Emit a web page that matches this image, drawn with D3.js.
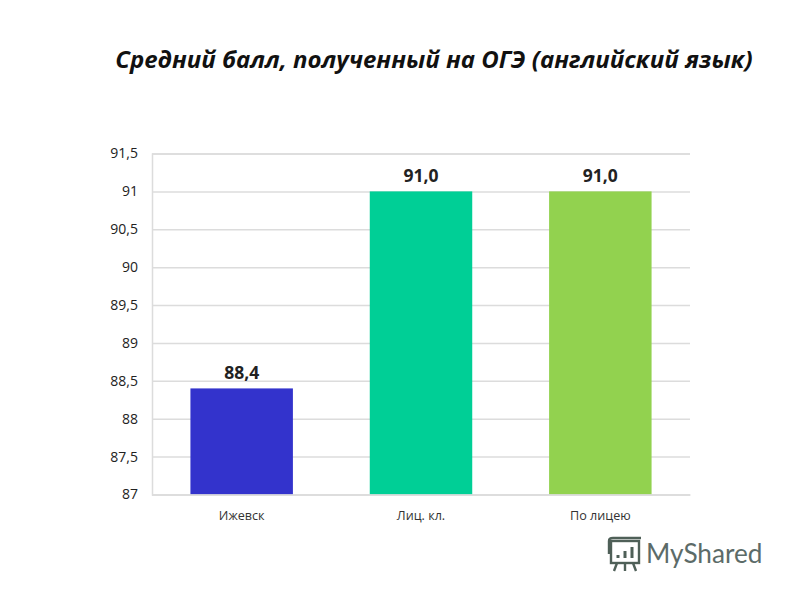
<!DOCTYPE html>
<html>
<head>
<meta charset="utf-8">
<script src="https://cdn.jsdelivr.net/npm/d3@7"></script>
<style>
  html, body { margin: 0; padding: 0; background: #fff; }
  svg { display: block; }
  text { font-family: "Open Sans", "Liberation Sans", sans-serif; }
</style>
</head>
<body>
<svg id="chart" width="800" height="600"></svg>
<script>
const categories = ['Ижевск', 'Лиц. кл.', 'По лицею'];
const values = [88.4, 91.0, 91.0];
const colors = ['#3333cc', '#00cf96', '#92d24f'];
const tickValues = [87, 87.5, 88, 88.5, 89, 89.5, 90, 90.5, 91, 91.5];

const comma = d => String(d).replace('.', ',');

const svg = d3.select('#chart');

const x = d3.scaleBand()
  .domain(categories)
  .range([152, 690])
  .paddingInner(0.75 / 1.75)
  .paddingOuter(0.375 / 1.75 * 1);

const y = d3.scaleLinear()
  .domain([87, 91.5])
  .range([494.5, 153.5]);

// title
svg.append('text')
  .attr('x', 434)
  .attr('y', 68)
  .attr('text-anchor', 'middle')
  .style('font-family', '"Open Sans", sans-serif')
  .style('font-size', '24px')
  .style('font-weight', 700)
  .style('font-style', 'italic')
  .attr('fill', '#111')
  .text('Средний балл, полученный на ОГЭ (английский язык)');

// gridlines and y labels
const yAxis = d3.axisLeft(y)
  .tickValues(tickValues)
  .tickSize(-(690 - 152))
  .tickPadding(14)
  .tickFormat(comma);

const gy = svg.append('g')
  .attr('transform', 'translate(152,0)')
  .call(yAxis);
gy.select('.domain').attr('stroke', '#dcdcdc').attr('stroke-width', 1.5);
gy.selectAll('.tick line').attr('stroke', '#dcdcdc').attr('stroke-width', 1.5);
gy.selectAll('.tick text')
  .attr('fill', '#222')
  .style('font-size', '14px');

// bars
svg.selectAll('.bar')
  .data(values)
  .enter()
  .append('rect')
  .attr('class', 'bar')
  .attr('x', (d, i) => x(categories[i]))
  .attr('y', d => y(d))
  .attr('width', x.bandwidth())
  .attr('height', d => y(87) - y(d))
  .attr('fill', (d, i) => colors[i]);

// value labels
svg.selectAll('.val')
  .data(values)
  .enter()
  .append('text')
  .attr('class', 'val')
  .attr('x', (d, i) => x(categories[i]) + x.bandwidth() / 2)
  .attr('y', d => y(d) - 9)
  .attr('text-anchor', 'middle')
  .style('font-size', '17.5px')
  .style('font-weight', 700)
  .attr('fill', '#222')
  .text(d => d3.format('.1f')(d).replace('.', ','));

// x labels
const gx = svg.append('g')
  .attr('transform', 'translate(0,494.5)')
  .call(d3.axisBottom(x).tickSize(0).tickPadding(17));
gx.select('.domain').attr('stroke', '#dcdcdc').attr('stroke-width', 1.5);
gx.selectAll('.tick text')
  .attr('fill', '#333')
  .style('font-size', '12.6px');

// watermark
const logo = svg.append('g')
  .attr('transform', 'translate(607,538)')
  .attr('fill', 'none')
  .attr('stroke', '#4f6058')
  .attr('stroke-width', 2.4);
logo.append('rect').attr('x', 4).attr('width', 28).attr('height', 22).attr('y', 3);
logo.append('path').attr('d', 'M2 16 V3 Q2 0 6 0 H34 M10 25 L7 33 M18 25 V33 M26 25 L29 33');
logo.append('path').attr('d', 'M11 20 V17 M18 20 V13 M25 20 V9').attr('stroke-width', 3);

svg.append('text')
  .attr('x', 646)
  .attr('y', 563)
  .style('font-family', 'Lato, sans-serif')
  .style('font-size', '26.2px')
  .attr('fill', '#5c6b68')
  .text('MyShared');
</script>
</body>
</html>
